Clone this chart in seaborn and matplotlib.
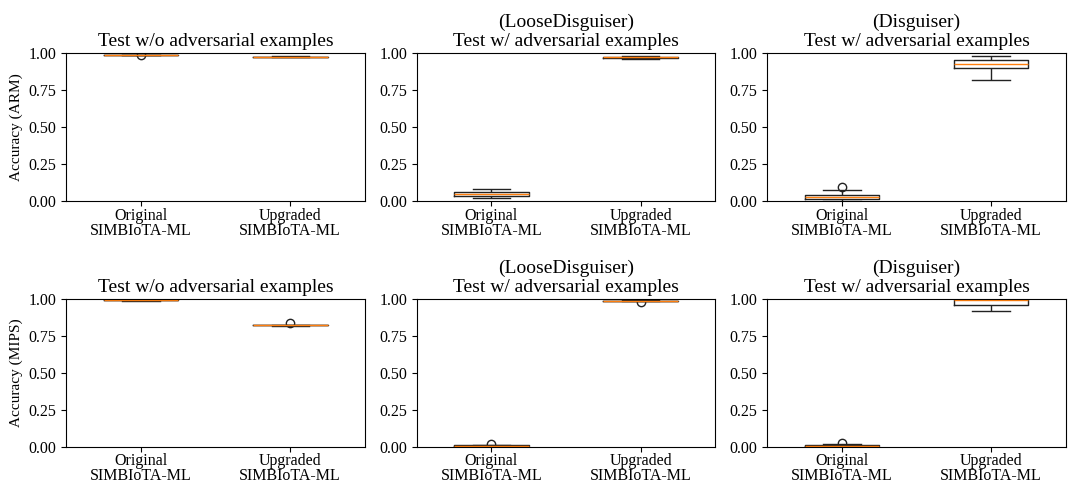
import pandas as pd
import matplotlib
matplotlib.use('Agg')
import matplotlib.pyplot as plt
import seaborn as sns

# per-run accuracies
models = ['Original\nSIMBIoTA-ML', 'Upgraded\nSIMBIoTA-ML']
titles = ['Test w/o adversarial examples',
          '(LooseDisguiser)\nTest w/ adversarial examples',
          '(Disguiser)\nTest w/ adversarial examples']
ylabels = ['Accuracy (ARM)', 'Accuracy (MIPS)']

arm_clean_orig = [0.984, 0.988, 0.988, 0.989, 0.989, 0.989, 0.990, 0.990, 0.990, 0.990]
arm_clean_upg = [0.972, 0.973, 0.974, 0.974, 0.975, 0.975, 0.976, 0.976, 0.977, 0.978]
arm_loose_orig = [0.022, 0.030, 0.036, 0.045, 0.050, 0.054, 0.058, 0.062, 0.066, 0.086]
arm_loose_upg = [0.962, 0.965, 0.967, 0.969, 0.970, 0.971, 0.972, 0.974, 0.975, 0.977]
arm_disg_orig = [0.003, 0.008, 0.012, 0.020, 0.028, 0.032, 0.040, 0.046, 0.074, 0.097]
arm_disg_upg = [0.818, 0.880, 0.895, 0.905, 0.920, 0.928, 0.945, 0.955, 0.965, 0.978]

mips_clean_orig = [0.986, 0.987, 0.988, 0.989, 0.990, 0.990, 0.991, 0.991, 0.992, 0.993]
mips_clean_upg = [0.816, 0.818, 0.819, 0.820, 0.821, 0.822, 0.823, 0.824, 0.825, 0.835]
mips_loose_orig = [0.003, 0.005, 0.006, 0.007, 0.008, 0.009, 0.010, 0.011, 0.012, 0.021]
mips_loose_upg = [0.976, 0.983, 0.984, 0.985, 0.986, 0.986, 0.987, 0.987, 0.988, 0.989]
mips_disg_orig = [0.001, 0.002, 0.004, 0.006, 0.008, 0.009, 0.011, 0.013, 0.018, 0.025]
mips_disg_upg = [0.919, 0.945, 0.955, 0.962, 0.985, 0.992, 0.994, 0.995, 0.996, 0.998]

panels = [
    [(arm_clean_orig, arm_clean_upg), (arm_loose_orig, arm_loose_upg), (arm_disg_orig, arm_disg_upg)],
    [(mips_clean_orig, mips_clean_upg), (mips_loose_orig, mips_loose_upg), (mips_disg_orig, mips_disg_upg)],
]

plt.rcParams['font.family'] = ['Liberation Serif', 'DejaVu Serif']

fig, axes = plt.subplots(2, 3, figsize=(10.69, 4.87), dpi=100)
fig.subplots_adjust(left=0.062, right=0.997, top=0.891, bottom=0.082,
                    wspace=0.174, hspace=0.655)

for r in range(2):
    for c in range(3):
        ax = axes[r, c]
        orig, upg = panels[r][c]
        df = pd.DataFrame({
            'model': [models[0]] * len(orig) + [models[1]] * len(upg),
            'acc': orig + upg,
        })
        sns.boxplot(data=df, x='model', y='acc', ax=ax, order=models,
                    fill=False, color='#222222', linewidth=1, width=0.5,
                    medianprops={'color': '#ff7f0e', 'linewidth': 1},
                    flierprops={'marker': 'o', 'markerfacecolor': 'none',
                                'markeredgecolor': '#222222', 'markersize': 6})
        ax.set_ylim(0, 1.0)
        ax.set_yticks([0, 0.25, 0.5, 0.75, 1.0])
        ax.set_yticklabels(['0.00', '0.25', '0.50', '0.75', '1.00'], fontsize=11.5)
        ax.tick_params(axis='x', labelsize=11.5, pad=1)
        for lbl in ax.get_xticklabels():
            lbl.set_linespacing(0.9)
        ax.set_xlabel('')
        ax.set_ylabel(ylabels[r] if c == 0 else '', fontsize=11)
        ax.set_title(titles[c], fontsize=14, linespacing=1.15, pad=5)

fig.savefig('out.png', dpi=100)
